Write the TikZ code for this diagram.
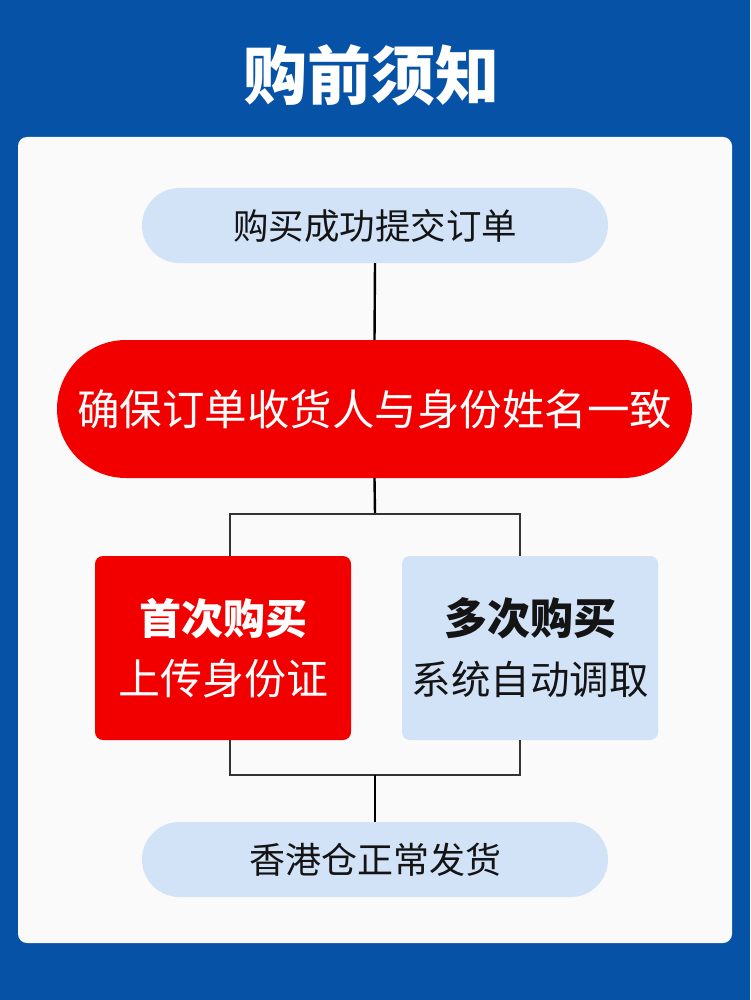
\documentclass[tikz,border=0pt]{standalone}
\usepackage{fontspec}
\setmainfont{Noto Sans CJK SC}
\definecolor{bgblue}{HTML}{0552A6}
\definecolor{cardw}{HTML}{FAFAFA}
\definecolor{lblue}{HTML}{D2E2F7}
\definecolor{fred}{HTML}{F20000}
\definecolor{dtext}{HTML}{141414}
\definecolor{brk}{HTML}{333333}
\tikzset{
  pill/.style={fill=lblue, draw=none, minimum width=466pt, minimum height=75pt, rounded corners=37.5pt, inner sep=0pt, text=dtext, font=\fontsize{35.5}{40}\selectfont},
  redpill/.style={fill=fred, draw=none, minimum width=635pt, minimum height=138pt, rounded corners=69pt, inner sep=0pt, text=white, font=\fontsize{42.5}{48}\selectfont},
  card/.style={draw=none, minimum width=256pt, minimum height=184pt, rounded corners=8pt, inner sep=0pt, align=center},
  trunk/.style={draw=black, line width=2.4pt},
  branch/.style={draw=brk, line width=1.2pt},
}
\begin{document}
\begin{tikzpicture}[x=1pt,y=-1pt]
\fill[bgblue] (0,0) rectangle (750,1000);
\useasboundingbox (0,0) rectangle (750,1000);
\fill[cardw, rounded corners=9pt] (18,137) rectangle (732,943);
\node[text=white, font=\fontsize{64}{70}\selectfont\bfseries] (title) at (371,75) {购前须知};

\node[pill] (start) at (375,225.5) {购买成功提交订单};
\node[redpill] (check) at (374.5,409) {确保订单收货人与身份姓名一致};
\node[card, fill=fred, text=white, font=\fontsize{42}{60}\selectfont] (first) at (223,648) {{\bfseries 首次购买}\\上传身份证};
\node[card, fill=lblue, text=dtext, font=\fontsize{39.5}{60}\selectfont] (repeat) at (530,648) {{\bfseries\fontsize{43}{60}\selectfont 多次购买}\\系统自动调取};
\node[pill, font=\fontsize{36}{40}\selectfont] (ship) at (375,859.5) {香港仓正常发货};

\coordinate (splitT) at (375,514);
\coordinate (tl) at (230,514);
\coordinate (tr) at (520,514);
\coordinate (tlb) at (230,556);
\coordinate (trb) at (520,556);
\coordinate (splitB) at (375,775);
\coordinate (bl) at (230,775);
\coordinate (br) at (520,775);
\coordinate (blt) at (230,740);
\coordinate (brt) at (520,740);

\draw[trunk] (start.south) -- (check.north);
\draw[trunk] (check.south) -- (splitT);
\draw[branch] (tlb) -- (tl) -- (tr) -- (trb);
\draw[branch] (blt) -- (bl) -- (br) -- (brt);
\draw[trunk] (splitB) -- (ship.north);
\end{tikzpicture}
\end{document}
